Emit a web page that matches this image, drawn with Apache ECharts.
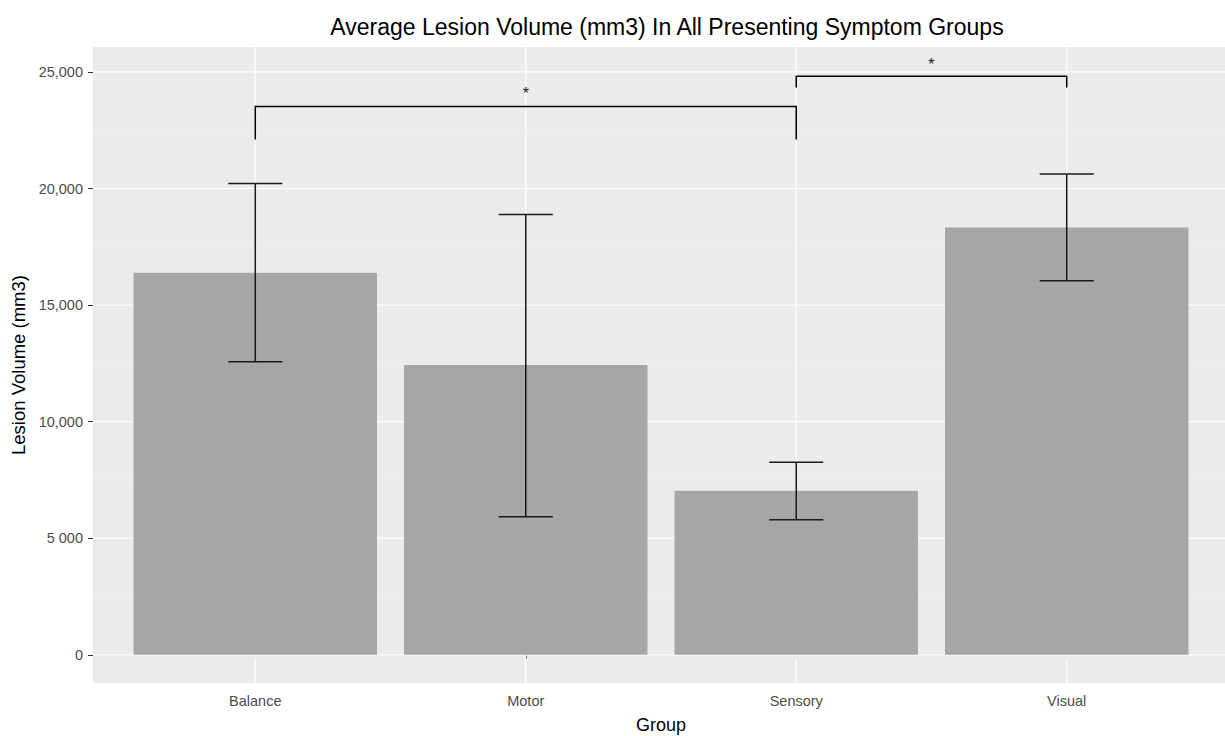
<!DOCTYPE html>
<html>
<head>
<meta charset="utf-8">
<script src="https://cdn.jsdelivr.net/npm/echarts@6/dist/echarts.min.js"></script>
<style>
  html, body { margin: 0; padding: 0; background: #fff; overflow: hidden; }
  #chart { width: 1225px; height: 736px; }
</style>
</head>
<body>
<div id="chart"></div>
<script>
  // data
  const categories = ['Balance', 'Motor', 'Sensory', 'Visual'];
  const means = [16390, 12430, 7040, 18330];
  const errLow = [12570, 5920, 5790, 16040];
  const errHigh = [20220, 18890, 8260, 20620];

  const yTickValues = [0, 5000, 10000, 15000, 20000, 25000];
  const yTickLabels = ['0', '5 000', '10,000', '15,000', '20,000', '25,000'];
  const yMinorValues = [2500, 7500, 12500, 17500, 22500];

  // significance brackets (category positions 1..4)
  const bracketFrom = [1, 3];
  const bracketTo = [3, 4];
  const bracketTop = [23520, 24820];
  const bracketLeg = [22100, 24330];
  const bracketLabel = ['*', '*'];
  const bracketLabelY = [24080, 25330];

  const xPos = categories.map((c, i) => i + 1);
  const yMin = -1210, yMax = 26070;
  const font = '"Liberation Sans", Arial, sans-serif';

  const chart = echarts.init(document.getElementById('chart'), null, { renderer: 'svg' });

  function hLine(color, width) {
    return function (params, api) {
      const v = api.value(0);
      const a = api.coord([0.4, v]);
      const b = api.coord([4.6, v]);
      return { type: 'line', shape: { x1: a[0], y1: a[1], x2: b[0], y2: b[1] }, style: { stroke: color, lineWidth: width } };
    };
  }

  const option = {
    backgroundColor: '#fff',
    animation: false,
    title: {
      text: 'Average Lesion Volume (mm3) In All Presenting Symptom Groups',
      left: 662, top: 10, textAlign: 'center',
      textStyle: { fontFamily: font, fontSize: 23, fontWeight: 'normal', color: '#000' }
    },
    grid: {
      left: 93, top: 47, bottom: 53, right: -4,
      outerBoundsMode: 'none',
      show: true, backgroundColor: '#ebebeb', borderWidth: 0
    },
    xAxis: {
      type: 'value', min: 0.4, max: 4.6,
      name: 'Group', nameLocation: 'middle', nameGap: 33,
      nameTextStyle: { fontFamily: font, fontSize: 18, color: '#000' },
      axisLine: { show: false },
      axisTick: { show: true, customValues: xPos, length: 4, lineStyle: { color: '#333' } },
      axisLabel: {
        customValues: xPos, margin: 10,
        fontFamily: font, fontSize: 14.5, color: '#4d4d4d',
        formatter: v => categories[Math.round(v) - 1]
      },
      splitLine: { show: false }
    },
    yAxis: {
      type: 'value', min: yMin, max: yMax,
      name: 'Lesion Volume (mm3)', nameLocation: 'middle', nameGap: 65, nameRotate: 90,
      nameTextStyle: { fontFamily: font, fontSize: 18.5, color: '#000' },
      axisLine: { show: false },
      axisTick: { show: true, customValues: yTickValues, length: 5, lineStyle: { color: '#333' } },
      axisLabel: {
        customValues: yTickValues, margin: 10,
        fontFamily: font, fontSize: 14.5, color: '#4d4d4d',
        formatter: v => yTickLabels[yTickValues.indexOf(v)]
      },
      splitLine: { show: false }
    },
    series: [
      {
        type: 'custom', z: 1, silent: true,
        data: yMinorValues.map(v => [v]),
        renderItem: hLine('#f4f4f4', 0.6)
      },
      {
        type: 'custom', z: 1, silent: true,
        data: yTickValues.map(v => [v]),
        renderItem: hLine('#ffffff', 1.2)
      },
      {
        type: 'custom', z: 1, silent: true,
        data: xPos.map(v => [v]),
        renderItem: function (params, api) {
          const x = api.value(0);
          const a = api.coord([x, yMin]);
          const b = api.coord([x, yMax]);
          return { type: 'line', shape: { x1: a[0], y1: a[1], x2: b[0], y2: b[1] }, style: { stroke: '#fff', lineWidth: 1.2 } };
        }
      },
      {
        type: 'custom', z: 2,
        data: means.map((m, i) => [i + 1, m]),
        renderItem: function (params, api) {
          const x = api.value(0), v = api.value(1);
          const a = api.coord([x - 0.45, v]);
          const b = api.coord([x + 0.45, 0]);
          return { type: 'rect', shape: { x: a[0], y: a[1], width: b[0] - a[0], height: b[1] - a[1] }, style: { fill: '#a6a6a6' } };
        }
      },
      {
        type: 'custom', z: 3,
        data: means.map((m, i) => [i + 1, errLow[i], errHigh[i]]),
        renderItem: function (params, api) {
          const x = api.value(0), lo = api.value(1), hi = api.value(2);
          const st = { stroke: '#1a1a1a', lineWidth: 1.5 };
          const pLo = api.coord([x, lo]), pHi = api.coord([x, hi]);
          const l = api.coord([x - 0.1, 0])[0], r = api.coord([x + 0.1, 0])[0];
          return {
            type: 'group', children: [
              { type: 'line', shape: { x1: pLo[0], y1: pLo[1], x2: pHi[0], y2: pHi[1] }, style: st },
              { type: 'line', shape: { x1: l, y1: pLo[1], x2: r, y2: pLo[1] }, style: st },
              { type: 'line', shape: { x1: l, y1: pHi[1], x2: r, y2: pHi[1] }, style: st }
            ]
          };
        }
      },
      {
        type: 'custom', z: 4,
        data: bracketFrom.map((f, i) => [f, bracketTo[i], bracketTop[i], bracketLeg[i], bracketLabelY[i], i]),
        renderItem: function (params, api) {
          const f = api.value(0), t = api.value(1), top = api.value(2), leg = api.value(3), ly = api.value(4);
          const i = api.value(5);
          const a = api.coord([f, leg]), b = api.coord([f, top]);
          const c = api.coord([t, top]), d = api.coord([t, leg]);
          const m = api.coord([(f + t) / 2, ly]);
          return {
            type: 'group', children: [
              { type: 'polyline', shape: { points: [a, b, c, d] }, style: { stroke: '#000', lineWidth: 1.5, fill: null } },
              { type: 'text', x: m[0], y: m[1], style: { text: bracketLabel[i], fontFamily: font, fontSize: 16, fill: '#1a1a1a', align: 'center', verticalAlign: 'middle' } }
            ]
          };
        }
      }
    ]
  };

  chart.setOption(option);
</script>
</body>
</html>
